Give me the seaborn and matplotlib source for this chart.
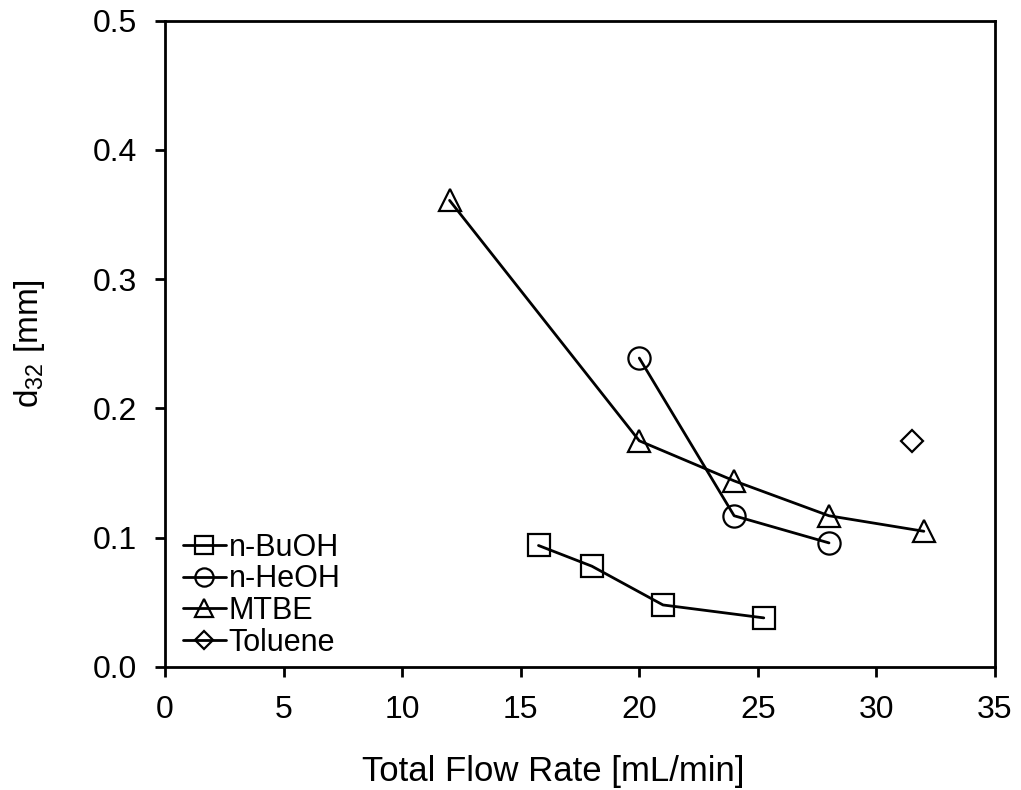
import matplotlib
matplotlib.use("Agg")
import matplotlib.pyplot as plt
import seaborn as sns
import pandas as pd

sns.set_theme(style="white")
plt.rcParams['font.family'] = ['Liberation Sans', 'DejaVu Sans']
plt.rcParams['mathtext.fontset'] = 'custom'
plt.rcParams['mathtext.rm'] = 'Liberation Sans'
plt.rcParams['mathtext.it'] = 'Liberation Sans'

# Data
bu_x = [15.75, 18.0, 21.0, 25.25]
bu_y = [0.094, 0.078, 0.048, 0.038]
he_x = [20.0, 24.0, 28.0]
he_y = [0.239, 0.117, 0.096]
mt_x = [12.0, 20.0, 24.0, 28.0, 32.0]
mt_y = [0.361, 0.175, 0.144, 0.117, 0.105]
to_x = [31.5]
to_y = [0.175]

series = [
    ("n-BuOH", bu_x, bu_y, "s", 15.5),
    ("n-HeOH", he_x, he_y, "o", 16),
    ("MTBE", mt_x, mt_y, "^", 16),
    ("Toluene", to_x, to_y, "D", 11),
]

fig = plt.figure(figsize=(10.21, 7.9), dpi=100)
ax = fig.add_axes([165/1021, 1-667/790, (995-165)/1021, (667-20.7)/790])

for name, xs, ys, mk, ms in series:
    df = pd.DataFrame({"x": xs, "y": ys})
    sns.lineplot(data=df, x="x", y="y", ax=ax, color="black", linewidth=2,
                 marker=mk, markersize=ms, markerfacecolor="none",
                 markeredgecolor="black", markeredgewidth=1.6,
                 label=name, sort=False, estimator=None)

ax.set_xlim(0, 35)
ax.set_ylim(0, 0.5)
ax.set_xticks([0, 5, 10, 15, 20, 25, 30, 35])
ax.set_yticks([0.0, 0.1, 0.2, 0.3, 0.4, 0.5])
ax.set_yticklabels(["0.0", "0.1", "0.2", "0.3", "0.4", "0.5"])
for s in ax.spines.values():
    s.set_color("black")
    s.set_linewidth(2)
    s.set_visible(True)
ax.tick_params(axis="both", direction="out", length=7, width=2, color="black",
               labelsize=23, labelcolor="black", pad=13, bottom=True, left=True)
ax.set_xlabel("Total Flow Rate [mL/min]", fontsize=25, color="black")
ax.set_ylabel("d$_{32}$ [mm]", fontsize=24, color="black")
ax.xaxis.set_label_coords((553-165)/830, (667-755)/646.6)
ax.yaxis.set_label_coords((47-165)/830, 0.5)

leg = ax.legend(loc="lower left", bbox_to_anchor=(18/830, 9.5/646.6), frameon=False,
                fontsize=22, handlelength=1.4, handletextpad=0.1,
                labelspacing=0.05, borderpad=0.0, borderaxespad=0.0, markerscale=0.82)
for t in leg.get_texts():
    t.set_color("black")

fig.savefig("out.png", dpi=100)
